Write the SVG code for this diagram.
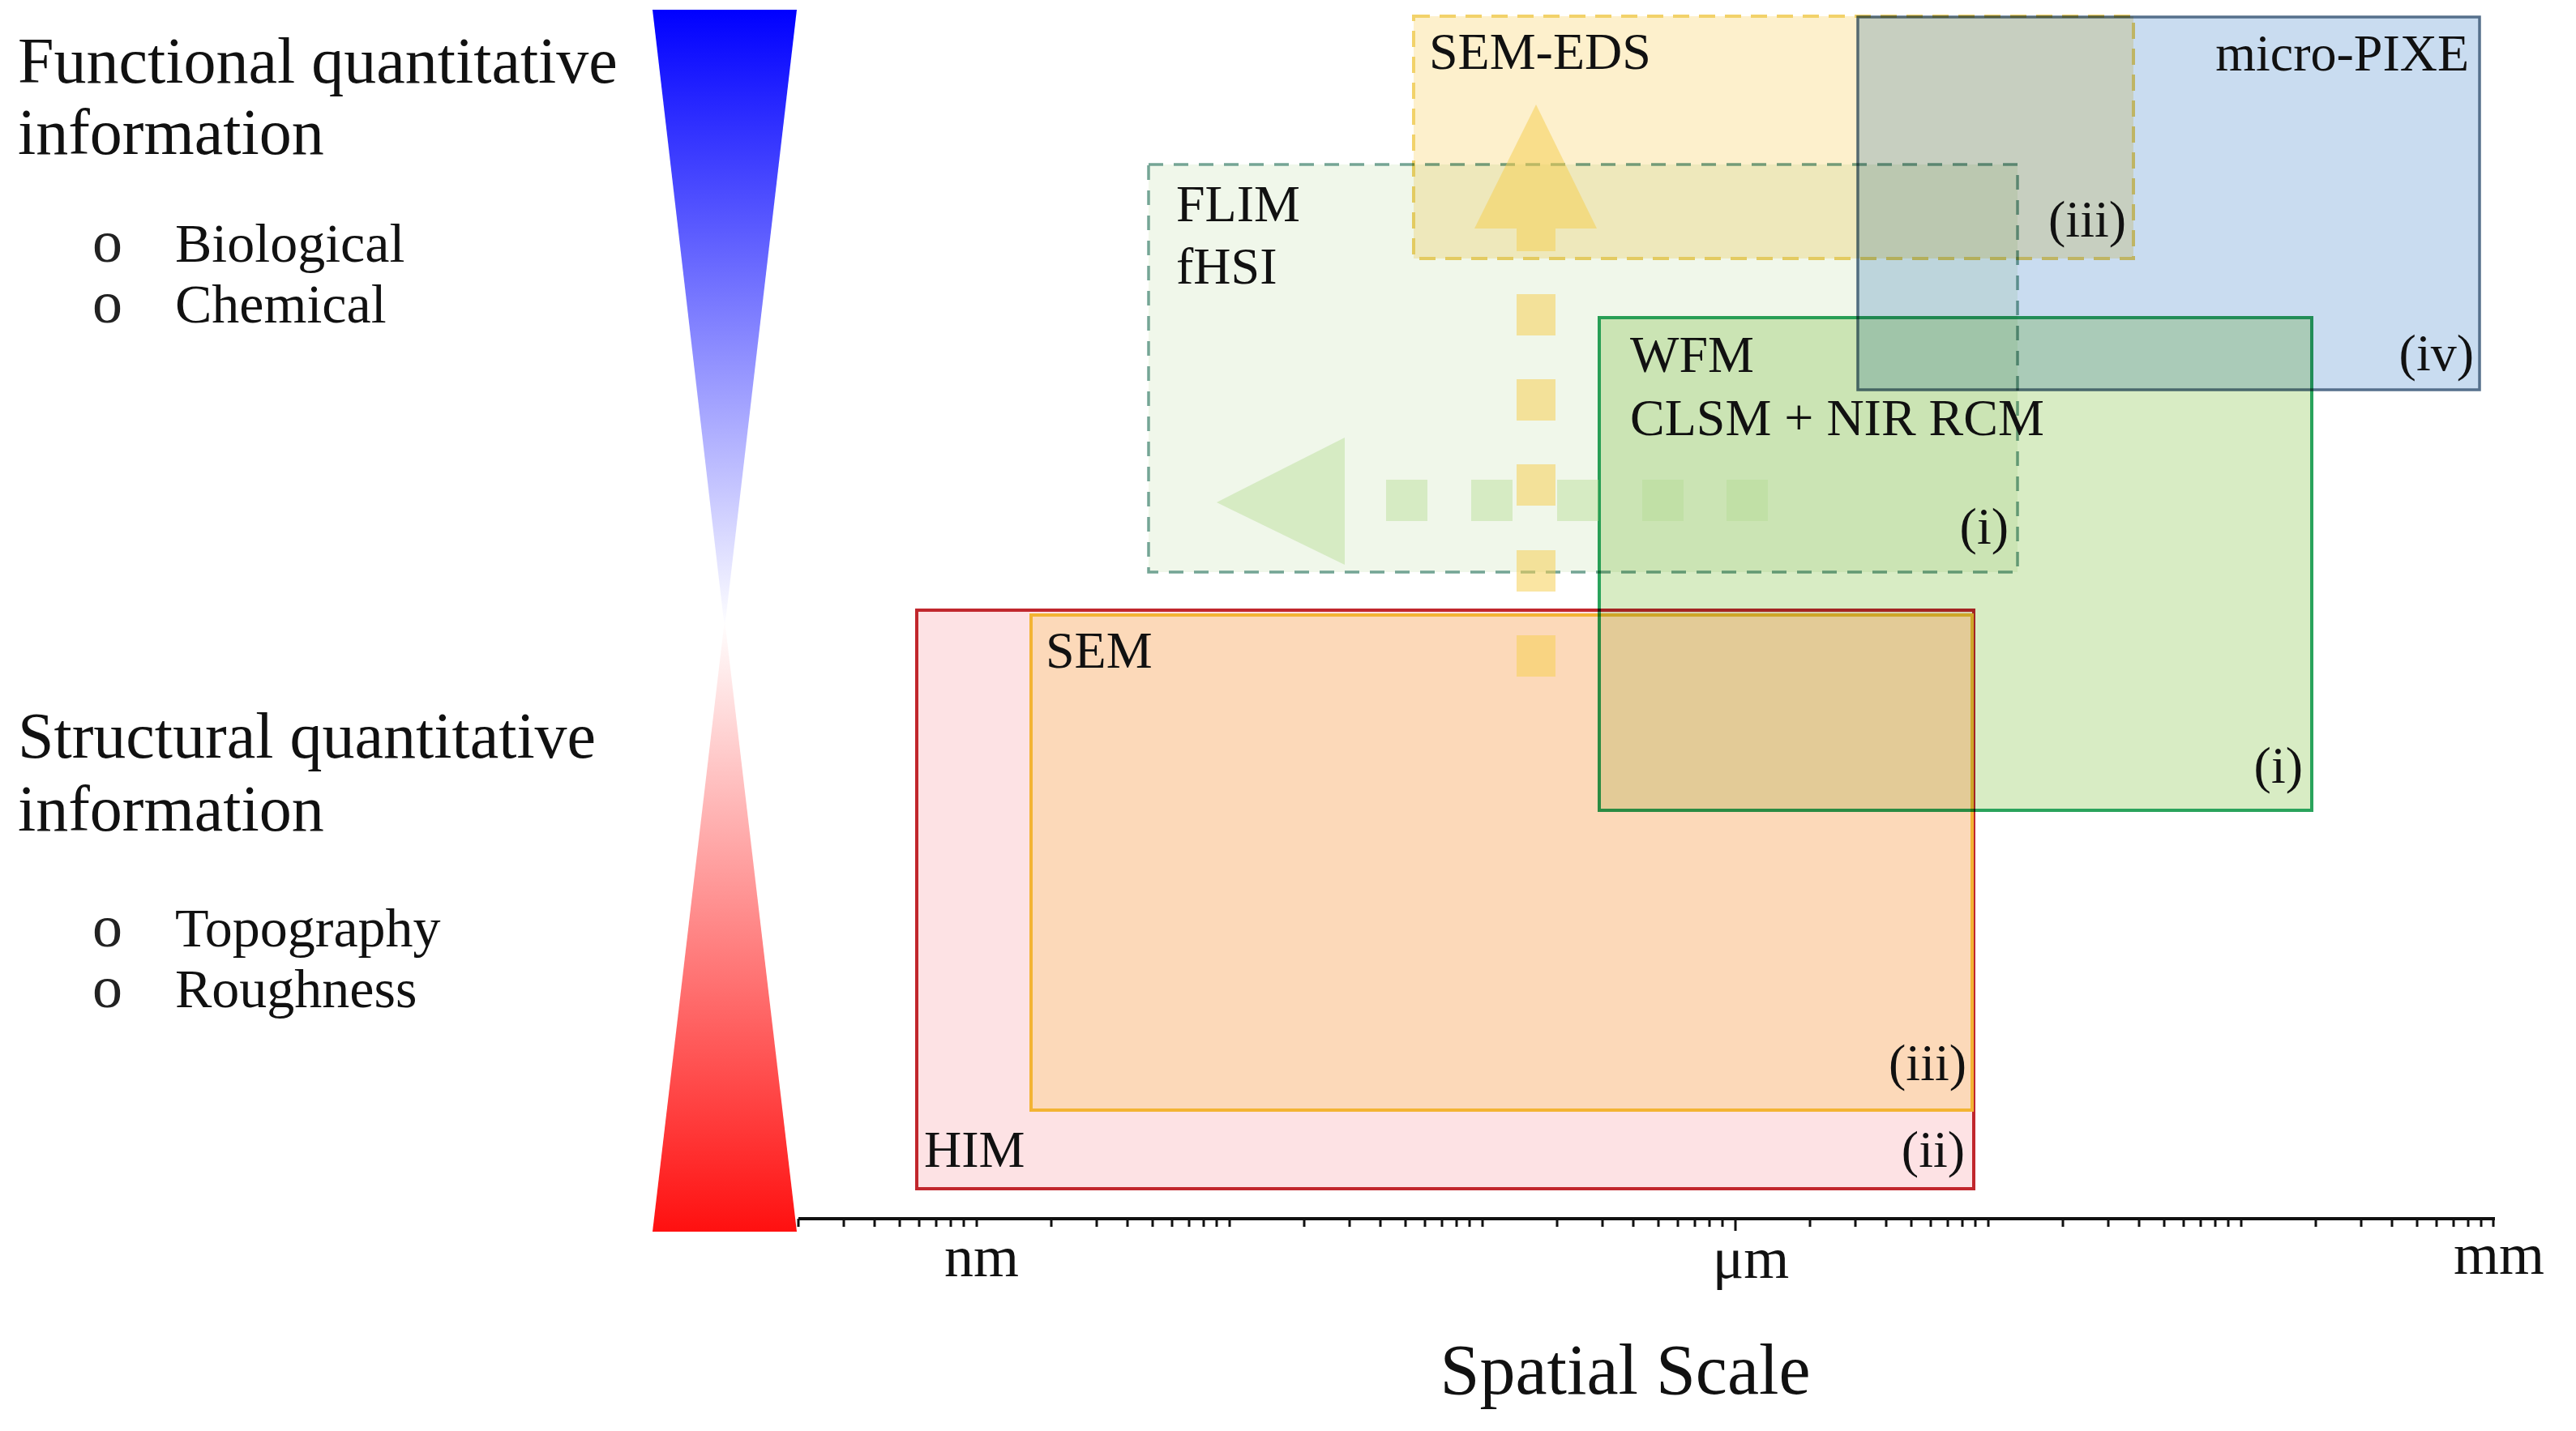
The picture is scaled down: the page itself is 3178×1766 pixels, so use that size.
<svg xmlns="http://www.w3.org/2000/svg" width="3178" height="1766" viewBox="0 0 3178 1766">
<defs>
<linearGradient id="gBlue" x1="0" y1="12" x2="0" y2="775" gradientUnits="userSpaceOnUse">
<stop offset="0" stop-color="#0000ff"/>
<stop offset="1" stop-color="#ffffff"/>
</linearGradient>
<linearGradient id="gRed" x1="0" y1="765" x2="0" y2="1520" gradientUnits="userSpaceOnUse">
<stop offset="0" stop-color="#ffffff"/>
<stop offset="1" stop-color="#ff1010"/>
</linearGradient>
</defs>
<style>
text{font-family:"Liberation Serif","Times New Roman",serif;fill:#111}
.h{font-size:80px}
.it{font-size:68px}
.bl{font-size:74px;fill:#222}
.lb{font-size:64px}
.ax{font-size:72px}
.mb{mix-blend-mode:multiply}
.sq-y{fill:#f5cf55;opacity:0.55}
.sq-g{fill:#b5dc95;opacity:0.45}
</style>
<rect width="3178" height="1766" fill="#ffffff"/>

<g id="hourglass">
<polygon points="805,12 983,12 894,775" fill="url(#gBlue)"/>
<polygon points="894,765 805,1520 983,1520" fill="url(#gRed)"/>
</g>

<g id="left-text">
<text class="h" x="22" y="102">Functional quantitative</text>
<text class="h" x="22" y="190">information</text>
<text class="bl" x="114" y="323">o</text>
<text class="it" x="216" y="323">Biological</text>
<text class="bl" x="114" y="398">o</text>
<text class="it" x="216" y="398">Chemical</text>
<text class="h" x="22" y="935">Structural quantitative</text>
<text class="h" x="22" y="1025">information</text>
<text class="bl" x="114" y="1168">o</text>
<text class="it" x="216" y="1168">Topography</text>
<text class="bl" x="114" y="1243">o</text>
<text class="it" x="216" y="1243">Roughness</text>
</g>

<g id="HIM">
<rect x="1131" y="753" width="1304" height="714" fill="#fde2e4" stroke="#c1272d" stroke-width="4"/>
</g>
<g id="SEM">
<rect x="1272" y="759" width="1161" height="611" fill="#fcd9b9" stroke="#f3b433" stroke-width="4"/>
</g>
<g id="FLIM" class="mb">
<rect x="1417" y="203" width="1072" height="503" fill="#f0f7ea" stroke="#74a595" stroke-width="3.5" stroke-dasharray="18 13"/>
</g>
<g id="SEM-EDS" class="mb">
<rect x="1744" y="20" width="888" height="299" fill="#fdf0cc" stroke="#f2d26a" stroke-width="4" stroke-dasharray="20 12"/>
</g>
<g id="micro-PIXE" class="mb">
<rect x="2292" y="21" width="767" height="460" fill="#c9dcf0" stroke="#56708c" stroke-width="3.5"/>
</g>
<g id="WFM">
<rect class="mb" x="1973" y="392" width="879" height="608" fill="#d8ecc4" stroke="#2aa35c" stroke-width="4"/>
<rect x="1975" y="761" width="456" height="237" fill="#e3cb97"/>
</g>

<g id="connectors">
<g id="arrow-left">
<polygon points="1501,620 1659,540 1659,697" class="sq-g"/>
<rect x="1710" y="592" width="51" height="51" class="sq-g"/>
<rect x="1815" y="592" width="51" height="51" class="sq-g"/>
<rect x="1921" y="592" width="51" height="51" class="sq-g"/>
<rect x="2026" y="592" width="51" height="51" class="sq-g"/>
<rect x="2130" y="592" width="51" height="51" class="sq-g"/>
</g>
<g id="arrow-up">
<polygon points="1819,282 1895,129 1970,282" class="sq-y"/>
<rect x="1871" y="282" width="48" height="28" class="sq-y"/>
<rect x="1871" y="363" width="48" height="51" class="sq-y"/>
<rect x="1871" y="468" width="48" height="51" class="sq-y"/>
<rect x="1871" y="573" width="48" height="51" class="sq-y"/>
<rect x="1871" y="679" width="48" height="51" class="sq-y"/>
<rect x="1871" y="784" width="48" height="51" class="sq-y"/>
</g>
</g>

<g id="box-labels">
<text class="lb" x="1763" y="85">SEM-EDS</text>
<text class="lb" x="3046" y="87" text-anchor="end">micro-PIXE</text>
<text class="lb" x="2623" y="292" text-anchor="end">(iii)</text>
<text class="lb" x="3052" y="457" text-anchor="end">(iv)</text>
<text class="lb" x="1451" y="273">FLIM</text>
<text class="lb" x="1451" y="350">fHSI</text>
<text class="lb" x="2478" y="671" text-anchor="end">(i)</text>
<text class="lb" x="2011" y="459">WFM</text>
<text class="lb" x="2011" y="537">CLSM + NIR RCM</text>
<text class="lb" x="2841" y="966" text-anchor="end">(i)</text>
<text class="lb" x="1290" y="824">SEM</text>
<text class="lb" x="2426" y="1333" text-anchor="end">(iii)</text>
<text class="lb" x="1140" y="1440">HIM</text>
<text class="lb" x="2424" y="1440" text-anchor="end">(ii)</text>
</g>

<g id="axis">
<line x1="985" y1="1504" x2="3078" y2="1504" stroke="#111" stroke-width="4"/>
<path stroke="#111" stroke-width="3" fill="none" d="M985 1504v10M1041 1504v10M1079 1504v10M1110 1504v10M1134 1504v10M1155 1504v10M1173 1504v10M1189 1504v10M1205 1504v10M1297 1504v10M1353 1504v10M1391 1504v10M1422 1504v10M1446 1504v10M1467 1504v10M1485 1504v10M1501 1504v10M1517 1504v10M1609 1504v10M1665 1504v10M1703 1504v10M1734 1504v10M1758 1504v10M1779 1504v10M1797 1504v10M1813 1504v10M1829 1504v10M1921 1504v10M1977 1504v10M2015 1504v10M2046 1504v10M2070 1504v10M2091 1504v10M2109 1504v10M2125 1504v10M2141 1504v15M2233 1504v10M2289 1504v10M2327 1504v10M2358 1504v10M2382 1504v10M2403 1504v10M2421 1504v10M2437 1504v10M2453 1504v10M2545 1504v10M2601 1504v10M2639 1504v10M2670 1504v10M2694 1504v10M2715 1504v10M2733 1504v10M2749 1504v10M2765 1504v10M2857 1504v10M2913 1504v10M2951 1504v10M2982 1504v10M3006 1504v10M3027 1504v10M3045 1504v10M3061 1504v10M3076 1504v10"/>
<text class="ax" x="1211" y="1575" text-anchor="middle">nm</text>
<text class="ax" x="2160" y="1577" text-anchor="middle">μm</text>
<text class="ax" x="3083" y="1572" text-anchor="middle">mm</text>
<text x="2005" y="1720" text-anchor="middle" style="font-size:88px">Spatial Scale</text>
</g>
</svg>
